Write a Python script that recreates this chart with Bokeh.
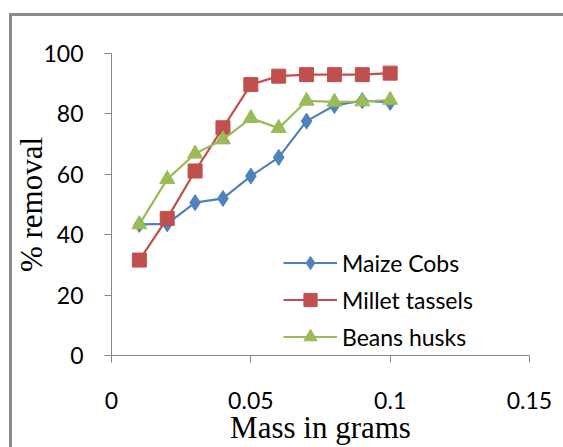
from bokeh.plotting import figure
from bokeh.models import Range1d, Legend, LegendItem, FixedTicker, InlineStyleSheet
from bokeh.embed import file_html
from bokeh.resources import INLINE

mass = [0.01, 0.02, 0.03, 0.04, 0.05, 0.06, 0.07, 0.08, 0.09, 0.10]
maize_cobs = [43.4, 43.6, 50.6, 52.0, 59.4, 65.6, 77.6, 82.8, 84.4, 83.8]
millet_tassels = [31.6, 45.4, 61.1, 75.4, 89.7, 92.5, 93.0, 93.0, 93.0, 93.5]
beans_husks = [43.4, 58.4, 66.8, 71.5, 78.6, 75.3, 84.3, 84.0, 84.1, 84.6]

series_names = ["Maize Cobs", "Millet tassels", "Beans husks"]
x_ticks = [0, 0.05, 0.1, 0.15]
x_tick_labels = ["0", "0.05", "0.1", "0.15"]
y_ticks = [0, 20, 40, 60, 80, 100]
x_title = "Mass in grams"
y_title = "% removal"

p = figure(width=563, height=447, output_backend="svg", toolbar_location=None,
           x_range=Range1d(0, 0.15), y_range=Range1d(0, 100),
           min_border_left=111, min_border_right=34, min_border_top=53, min_border_bottom=92)
p.outline_line_color = None
p.grid.visible = False
p.background_fill_color = "white"
p.border_fill_color = "white"

axis_color = "#868686"
tick_font = "Lato"
for ax in (p.xaxis[0], p.yaxis[0]):
    ax.axis_line_color = axis_color
    ax.major_tick_line_color = axis_color
    ax.major_tick_out = 7
    ax.major_tick_in = 0
    ax.minor_tick_line_color = None
    ax.major_label_text_font = tick_font
    ax.major_label_text_font_size = "23px"
    ax.major_label_text_color = "black"
    ax.axis_label_text_font = "Liberation Serif"
    ax.axis_label_text_font_size = "31px"
    ax.axis_label_text_font_style = "normal"
    ax.axis_label_text_color = "black"

p.xaxis.ticker = FixedTicker(ticks=x_ticks)
p.xaxis.major_label_overrides = {t: l for t, l in zip(x_ticks, x_tick_labels)}
p.yaxis.ticker = FixedTicker(ticks=y_ticks)
p.xaxis.axis_label = x_title
p.yaxis.axis_label = y_title
p.xaxis.major_label_standoff = 29
p.yaxis.major_label_standoff = 21
p.xaxis.axis_label_standoff = -2
p.yaxis.axis_label_standoff = -9

colors = ["#4F81BD", "#C0504D", "#9BBB59"]
markers = ["diamond", "square", "triangle"]
sizes = [16, 14, 15]
data = [maize_cobs, millet_tassels, beans_husks]

items = []
for name, ys, c, m, s in zip(series_names, data, colors, markers, sizes):
    l = p.line(mass, ys, line_color=c, line_width=2.2)
    sc = p.scatter(mass, ys, marker=m, size=s, fill_color=c, line_color=c)
    items.append(LegendItem(label=name, renderers=[l, sc]))

legend = Legend(items=items, location=(172, 2), border_line_color=None,
                background_fill_alpha=0, padding=0, margin=0, spacing=4,
                glyph_width=54, glyph_height=33, label_height=33,
                label_text_font=tick_font, label_text_font_size="23px",
                label_standoff=5, label_text_color="black")
p.add_layout(legend, "center")

p.stylesheets = [InlineStyleSheet(css="""
:host { position: relative; }
:host::after {
  content: ""; position: absolute; left: 9px; top: 12.5px; right: 0; bottom: 0;
  border-left: 3px solid #8c8c8c; border-top: 3px solid #8c8c8c;
  pointer-events: none; box-sizing: border-box;
}
""")]

open("out.html", "w").write(file_html(p, INLINE))
